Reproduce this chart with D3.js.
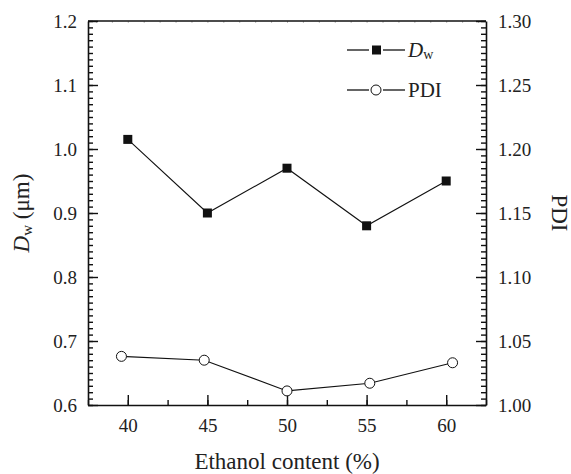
<!DOCTYPE html>
<html>
<head>
<meta charset="utf-8">
<script src="https://cdn.jsdelivr.net/npm/d3@7"></script>
<style>
  body { margin: 0; background: #fff; }
  svg text { font-family: "Liberation Serif", Tinos, "Nimbus Roman", "Times New Roman", serif !important; fill: #222; }
  .domain { stroke: #111; stroke-width: 1.6; }
  .tick line { stroke: #111; stroke-width: 1.4; }
</style>
</head>
<body>
<div id="chart"></div>
<script>
// data
const ethanol = [40, 45, 50, 55, 60];
const dwValues = [1.015, 0.90, 0.97, 0.88, 0.95];
const pdiX = [39.6, 44.8, 50.0, 55.2, 60.4];
const pdiValues = [1.038, 1.035, 1.011, 1.017, 1.033];
const xTicks = [40, 45, 50, 55, 60];
const leftTicks = [0.6, 0.7, 0.8, 0.9, 1.0, 1.1, 1.2];
const rightTicks = [1.00, 1.05, 1.10, 1.15, 1.20, 1.25, 1.30];
const legendItems = ["Dw", "PDI"];

const W = 571, H = 474;
const margin = { top: 21, right: 85, bottom: 69, left: 88 };
const width = W - margin.left - margin.right;
const height = H - margin.top - margin.bottom;
const serif = '"Liberation Serif", Tinos, "Times New Roman", serif';

const svg = d3.select("#chart").append("svg")
  .attr("width", W).attr("height", H)
  .attr("font-family", serif);
const g = svg.append("g")
  .attr("transform", `translate(${margin.left},${margin.top})`);

const x = d3.scaleLinear().domain([37.5, 62.5]).range([0, width]);
const yL = d3.scaleLinear().domain([0.6, 1.2]).range([height, 0]);
const yR = d3.scaleLinear().domain([1.0, 1.3]).range([height, 0]);

const minorL = d3.range(0.6, 1.2001, 0.01);
const minorR = d3.range(1.0, 1.3001, 0.005);
const minorX = d3.range(37.5, 62.51, 2.5);

// minor ticks first
g.append("g").call(d3.axisLeft(yL).tickValues(minorL).tickSize(-5).tickFormat(""))
  .select(".domain").remove();
g.append("g").attr("transform", `translate(${width},0)`)
  .call(d3.axisRight(yR).tickValues(minorR).tickSize(-5).tickFormat(""))
  .select(".domain").remove();
g.append("g").attr("transform", `translate(0,${height})`)
  .call(d3.axisBottom(x).tickValues(minorX).tickSize(-5).tickFormat(""))
  .select(".domain").remove();
// faint ticks on top edge
g.append("g")
  .call(d3.axisTop(x).tickValues(d3.range(38, 63, 1)).tickSize(-2).tickFormat(""))
  .call(s => s.select(".domain").remove())
  .selectAll("line").style("stroke", "#aaa").style("stroke-width", 0.8);

// major axes
const left = g.append("g")
  .call(d3.axisLeft(yL).tickValues(leftTicks).tickSize(-10).tickPadding(11)
    .tickFormat(d3.format(".1f")).tickSizeOuter(0));
const right = g.append("g").attr("transform", `translate(${width},0)`)
  .call(d3.axisRight(yR).tickValues(rightTicks).tickSize(-10).tickPadding(12)
    .tickFormat(d3.format(".2f")).tickSizeOuter(0));
const bottom = g.append("g").attr("transform", `translate(0,${height})`)
  .call(d3.axisBottom(x).tickValues(xTicks).tickSize(-10).tickPadding(14)
    .tickFormat(d3.format("d")).tickSizeOuter(0));
[left, right, bottom].forEach(a => {
  a.attr("font-family", serif);
  a.selectAll("text").style("font-size", "19px").style("font-family", serif);
});

g.append("line").attr("x1", 0).attr("x2", width).attr("y1", 0).attr("y2", 0)
  .attr("stroke", "#111").attr("stroke-width", 1.6);

// Dw series
g.append("path")
  .datum(ethanol.map((e, i) => [e, dwValues[i]]))
  .attr("fill", "none").attr("stroke", "#111").attr("stroke-width", 1.1)
  .attr("d", d3.line().x(d => x(d[0])).y(d => yL(d[1])));
g.selectAll(".sq").data(ethanol.map((e, i) => [e, dwValues[i]])).enter()
  .append("rect").attr("class", "sq")
  .attr("x", d => x(d[0]) - 4.5).attr("y", d => yL(d[1]) - 4.5)
  .attr("width", 9).attr("height", 9).attr("fill", "#111");

// PDI series
g.append("path")
  .datum(pdiX.map((e, i) => [e, pdiValues[i]]))
  .attr("fill", "none").attr("stroke", "#111").attr("stroke-width", 1.1)
  .attr("d", d3.line().x(d => x(d[0])).y(d => yR(d[1])));
g.selectAll(".ci").data(pdiX.map((e, i) => [e, pdiValues[i]])).enter()
  .append("circle").attr("class", "ci")
  .attr("cx", d => x(d[0])).attr("cy", d => yR(d[1])).attr("r", 5)
  .attr("fill", "#fff").attr("stroke", "#111").attr("stroke-width", 1);

// legend: short line, marker, short line, label
const leg = svg.append("g").attr("transform", "translate(347,50)");
legendItems.forEach((name, i) => {
  const row = leg.append("g").attr("transform", `translate(0,${i * 40})`);
  row.append("line").attr("x1", 0).attr("x2", 22).attr("stroke", "#111").attr("stroke-width", 1.3);
  row.append("line").attr("x1", 36).attr("x2", 58).attr("stroke", "#111").attr("stroke-width", 1.3);
  if (i === 0) {
    row.append("rect").attr("x", 25).attr("y", -4.5).attr("width", 9).attr("height", 9).attr("fill", "#111");
  } else {
    row.append("circle").attr("cx", 29).attr("r", 5).attr("fill", "#fff").attr("stroke", "#111");
  }
  const t = row.append("text").attr("x", 61).attr("y", 7).style("font-size", "21px");
  if (name === "Dw") {
    t.append("tspan").style("font-style", "italic").text("D");
    t.append("tspan").attr("dy", 2).style("font-size", "14px").text("w");
  } else {
    t.text(name);
  }
});

// axis titles
svg.append("text").attr("x", margin.left + width / 2).attr("y", 469)
  .attr("text-anchor", "middle").style("font-size", "23px").text("Ethanol content (%)");

const yt = svg.append("text")
  .attr("transform", `translate(29,${margin.top + height / 2}) rotate(-90)`)
  .attr("text-anchor", "middle").style("font-size", "23px");
yt.append("tspan").style("font-style", "italic").text("D");
yt.append("tspan").attr("dy", 3).style("font-size", "15px").text("w");
yt.append("tspan").attr("dy", -3).text(" (μm)");

svg.append("text")
  .attr("transform", `translate(552,${margin.top + height / 2}) rotate(90)`)
  .attr("text-anchor", "middle").style("font-size", "23px").text("PDI");
</script>
</body>
</html>
